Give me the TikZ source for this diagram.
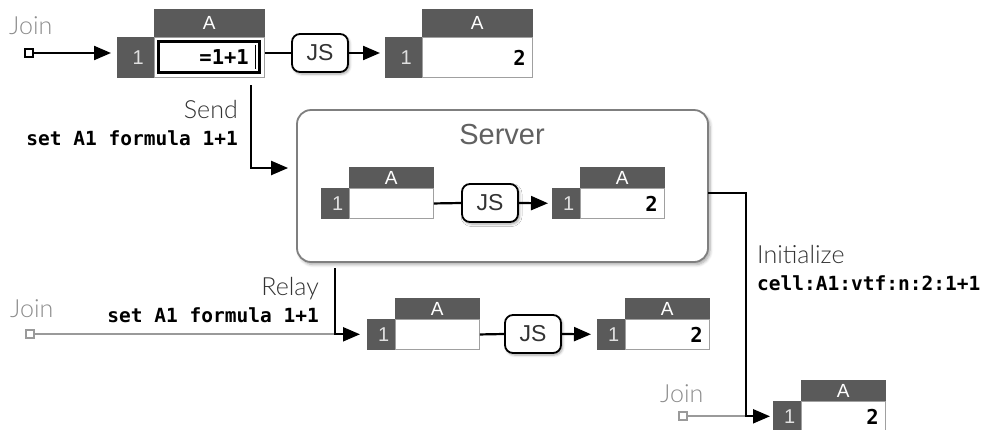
\documentclass[tikz,border=0pt]{standalone}
\usepackage{fontspec}
\setmainfont{Liberation Sans}
\newfontfamily\codefont{DejaVu Sans Mono}
\newfontfamily\thinfont{Lato Light}
\usetikzlibrary{arrows.meta,shadows.blur,calc}
\definecolor{hdr}{HTML}{5A5A5A}
\definecolor{cellline}{HTML}{A0A0A0}
\definecolor{joingray}{HTML}{9A9A9A}
\definecolor{lblgray}{HTML}{8C8C8C}
\definecolor{dark}{HTML}{333333}
\definecolor{srvline}{HTML}{7F7F7F}
\tikzset{
 colhdr/.style={fill=hdr, draw=hdr, line width=0.6pt, text=white, font=\fontsize{19}{19}\selectfont, inner sep=0pt, anchor=north west},
 rowhdr/.style={fill=hdr, draw=hdr, line width=0.6pt, text=white!88!black, font=\fontsize{20}{20}\selectfont, inner sep=0pt, anchor=north west},
 cellbody/.style={fill=white, draw=cellline, line width=0.9pt, inner sep=0pt, anchor=north west},
 val/.style={font=\codefont\bfseries\fontsize{20.5}{20.5}\selectfont, inner sep=0pt, anchor=east},
 jsbox/.style={draw=black, fill=white, line width=1.8pt, rounded corners=8pt, minimum width=56pt, minimum height=38pt, inner sep=0pt, font=\fontsize{23}{23}\selectfont, text=dark, blur shadow={shadow xshift=1.5pt, shadow yshift=-2pt, shadow blur steps=6, shadow blur radius=2.5pt, shadow opacity=35}},
 conn/.style={draw=black, line width=2.2pt, -{Triangle[length=17pt,width=14pt]}},
 plain/.style={draw=black, line width=2.2pt},
 greyline/.style={draw=joingray, line width=2pt},
 joinsq/.style={draw=#1, fill=white, line width=1.6pt, minimum size=8pt, inner sep=0pt},
 joinsq/.default=joingray,
 thinlbl/.style={font=\thinfont\fontsize{25}{25}\selectfont, inner sep=0pt, text=dark},
 joinlbl/.style={thinlbl, text=lblgray, anchor=base west},
 code/.style={font=\codefont\bfseries\fontsize{19.5}{19.5}\selectfont, inner sep=0pt, text=black},
}
\newcommand{\sheetcell}[7]{%
  \node[colhdr, minimum width=#5pt, minimum height=#6pt] (#1ch) at ({#2+#4},{#3}) {A};
  \node[rowhdr, minimum width=#4pt, minimum height=#7pt] (#1rh) at ({#2},{#3+#6}) {\hspace*{5pt}1};
  \node[cellbody, minimum width=#5pt, minimum height=#7pt] (#1b) at ({#2+#4},{#3+#6}) {};
}
\begin{document}
\begin{tikzpicture}[x=1pt,y=-1pt]
\useasboundingbox (0,0) rectangle (985,429);
% server box
\node[draw=srvline, line width=1.8pt, fill=white, rounded corners=14pt, minimum width=411pt, minimum height=152pt, inner sep=0pt, blur shadow={shadow xshift=2pt, shadow yshift=-2.5pt, shadow blur steps=6, shadow blur radius=3pt, shadow opacity=35}] (srv) at (502.5,186) {};
\node[font=\fontsize{29}{29}\selectfont, text=black!62, inner sep=0pt] (srvt) at (502,135) {Server};
% cells
\sheetcell{ta}{117}{9}{37}{110}{28}{40}
\sheetcell{tb}{385}{9}{37}{110}{28}{40}
\sheetcell{sa}{321}{167}{28}{84}{21}{30}
\sheetcell{sb}{552}{167}{28}{84}{21}{30}
\sheetcell{ra}{367}{298}{28}{84}{21}{30}
\sheetcell{rb}{597}{298}{28}{84}{21}{30}
\sheetcell{ba}{773}{380}{28}{84}{21}{30}
\node[val] (tbv) at ([xshift=-7pt]tbb.east) {2};
\node[val] (sbv) at ([xshift=-7pt]sbb.east) {2};
\node[val] (rbv) at ([xshift=-7pt]rbb.east) {2};
\node[val] (bav) at ([xshift=-7pt]bab.east) {2};
% editing cell
\node[draw=black, line width=3.2pt, minimum width=101pt, minimum height=31pt, inner sep=0pt] (edit) at (209,57) {};
\node[val] (editv) at (249,57) {=1+1};
\draw[line width=1pt] ([xshift=-6pt,yshift=-5pt]edit.north east) -- ([xshift=-6pt,yshift=5pt]edit.south east);
% JS boxes
\node[jsbox] (tjs) at (320,53) {JS};
\node[jsbox] (sjs) at (490,203) {JS};
\node[jsbox] (rjs) at (533,334) {JS};
% join squares
\node[joinsq=black] (join1) at (29,53) {};
\node[joinsq] (join2) at (30,334) {};
\node[joinsq] (join3) at (683,416) {};
% labels
\node[joinlbl] (jl1) at (9,34) {Join};
\node[joinlbl] (jl2) at (10,317) {Join};
\node[joinlbl] (jl3) at (660,402) {Join};
\node[thinlbl, anchor=base east] (sendl) at (238,118) {Send};
\node[code, anchor=base east] (sendc) at (238,145) {set A1 formula 1+1};
\node[thinlbl, anchor=base east] (rell) at (319,295) {Relay};
\node[code, anchor=base east] (relc) at (319,322) {set A1 formula 1+1};
\node[thinlbl, anchor=base west] (inil) at (757,263) {Initialize};
\node[code, anchor=base west] (inic) at (757,290) {cell:A1:vtf:n:2:1+1};
% connectors
\draw[conn, shorten >=6pt] (join1) -- (tarh.west |- join1);
\draw[plain] (tab.east |- tjs) -- (tjs.west);
\draw[conn, shorten >=5pt] (tjs.east) -- (tbrh.west |- tjs);
\draw[plain] (sab.east) -- (sjs.west);
\draw[conn, shorten >=4pt] (sjs.east) -- (sbrh.west);
\draw[plain] (rab.east) -- (rjs.west);
\draw[conn, shorten >=6pt] (rjs.east) -- (rbrh.west);
\coordinate (sendA) at (251,85);
\coordinate (sendB) at (251,168);
\draw[conn, shorten >=8pt] (sendA) -- (sendB) -- (sendB -| srv.west);
\coordinate (relA) at (335,268);
\draw[greyline] (join2) -- (join2 -| relA);
\draw[conn, shorten >=7pt] (relA) |- (rarh.west);
\coordinate (iniS) at (708,193);
\coordinate (iniB) at (746,193);
\draw[greyline] (join3) -- (join3 -| iniB);
\draw[conn, shorten >=3pt] (iniS) -- (iniB) |- (barh.west);
\end{tikzpicture}
\end{document}
